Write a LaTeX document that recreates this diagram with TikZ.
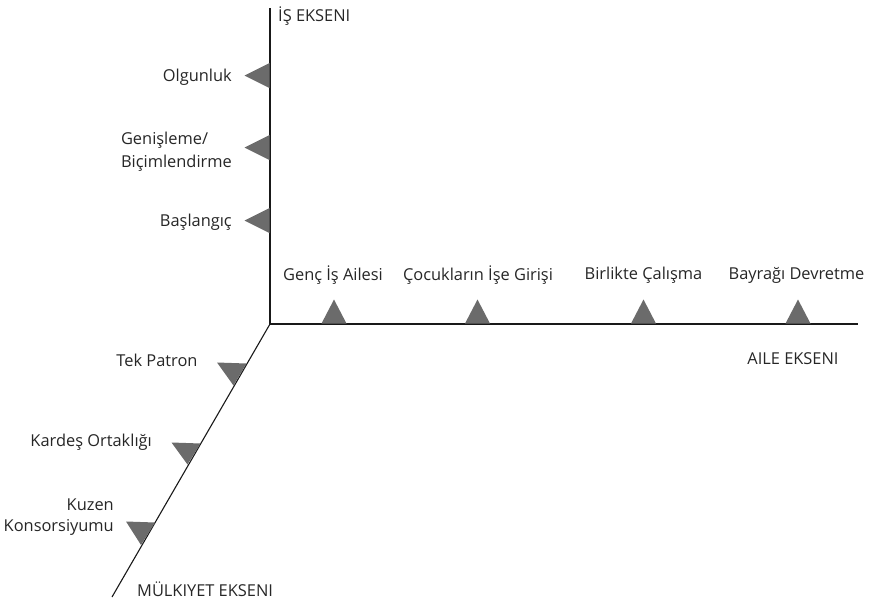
\documentclass[tikz,border=0pt]{standalone}
\usepackage{fontspec}
\setmainfont{Open Sans}
\begin{document}
\begin{tikzpicture}[x=1pt,y=-1pt,
  lbl/.style={inner sep=0pt,font=\fontsize{16.4}{23}\selectfont,text=black!85},
  axis/.style={line width=1.1pt,draw=black!90},
  tri/.style={fill=black!58,draw=none}]
\useasboundingbox (0,0) rectangle (876,600);
\coordinate (O) at (270,324);
\coordinate (Ytop) at (270,8);
\coordinate (Xend) at (858,324);
\coordinate (Dend) at (112,597);
\draw[axis] (Ytop) -- (O) -- (Xend);
\draw[axis] (O) -- (Dend);
% vertical axis markers
\foreach \y in {75.5,147.5,220.5}{\fill[tri] (269.5,\y-12.5) -- (244.5,\y) -- (269.5,\y+12.5) -- cycle;}
% horizontal axis markers
\foreach \x in {334,477.5,643.5,798}{\fill[tri] (\x-12.5,323.5) -- (\x,299.5) -- (\x+12.5,323.5) -- cycle;}
% diagonal axis markers
\fill[tri] (217,362.5) -- (246.5,363.5) -- (233.5,385.5) -- cycle;
\fill[tri] (171.5,442.5) -- (200.5,443.5) -- (187.5,464.5) -- cycle;
\fill[tri] (126,521.5) -- (155,522.5) -- (141,545) -- cycle;
% labels
\node[lbl,anchor=west] (is) at (278,16) {İŞ EKSENI};
\node[lbl,anchor=east] (olg) at (232,77) {Olgunluk};
\node[lbl,anchor=east,align=left] (gen) at (232,151.5) {Genişleme/\\Biçimlendirme};
\node[lbl,anchor=east] (bas) at (232,222) {Başlangıç};
\node[lbl] (genc) at (333,275) {Genç İş Ailesi};
\node[lbl] (cocuk) at (478,275) {Çocukların İşe Girişi};
\node[lbl] (birl) at (643.5,275) {Birlikte Çalışma};
\node[lbl] (bayr) at (796.5,275) {Bayrağı Devretme};
\node[lbl] (aile) at (793,359) {AILE EKSENI};
\node[lbl] (tek) at (157,360) {Tek Patron};
\node[lbl,anchor=east] (kard) at (152,442) {Kardeş Ortaklığı};
\node[lbl,anchor=east,align=right,font=\fontsize{16.4}{21}\selectfont] (kuz) at (114,517.5) {Kuzen\\Konsorsiyumu};
\node[lbl,anchor=west] (mulk) at (137,589) {MÜLKIYET EKSENI};
\end{tikzpicture}
\end{document}
